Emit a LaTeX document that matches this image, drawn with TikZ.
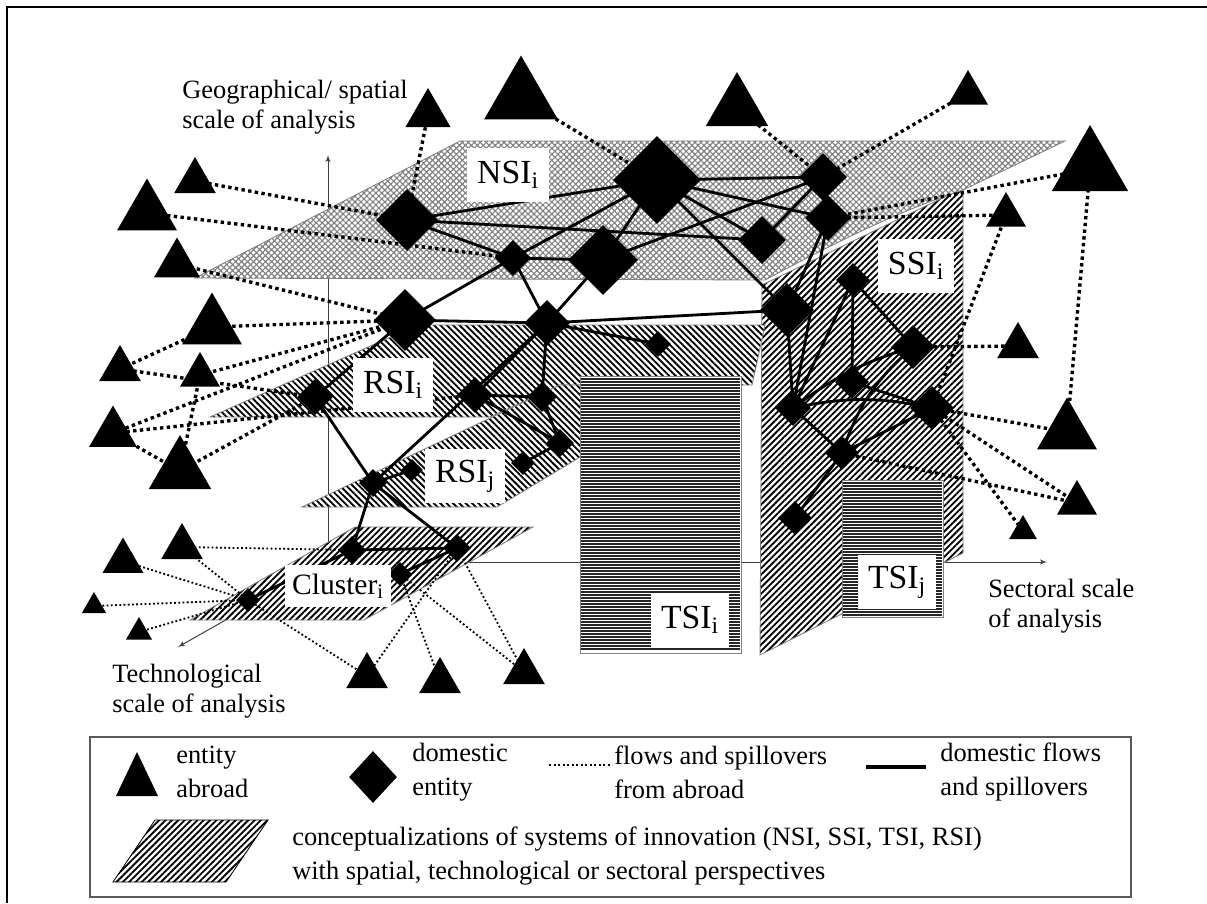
\documentclass[tikz,border=0pt]{standalone}
\usepackage{fontspec}
\setmainfont{Liberation Serif}
\usetikzlibrary{arrows,shapes.geometric,patterns.meta}

\pgfdeclarelayer{planes}
\pgfdeclarelayer{flows}
\pgfsetlayers{planes,flows,main}

\tikzstyle{axis}=[draw=black!75, line width=0.7pt]
\tikzstyle{plane}=[draw=gray, line width=0.6pt, preaction={fill=white}]
\tikzstyle{nsi}=[plane, pattern={Hatch[angle=45,distance=3pt,line width=0.8pt]}, pattern color=gray]
\tikzstyle{rsi}=[plane, pattern={Lines[angle=-45,distance=3.2pt,line width=1.3pt]}, pattern color=black]
\tikzstyle{ssi}=[plane, pattern={Lines[angle=45,distance=3.2pt,line width=1.3pt]}, pattern color=black]
\tikzstyle{tsi}=[draw=gray, line width=0.6pt, fill=white]
\tikzstyle{tsiline}=[line width=1pt, black!85]
\tikzstyle{systag}=[fill=white, inner xsep=7pt, minimum height=38pt, font=\fontsize{24}{26}\selectfont]
\tikzstyle{domflow}=[line width=2pt]
\tikzstyle{flow}=[line width=2.4pt, dash pattern=on 2.4pt off 2.4pt]
\tikzstyle{thinflow}=[line width=1.3pt, dash pattern=on 1.3pt off 1.7pt]
\tikzstyle{scalelabel}=[align=left, anchor=north west, inner sep=0pt, font=\fontsize{18.8}{21}\selectfont]
\tikzstyle{key}=[align=left, anchor=west, inner sep=0pt, font=\fontsize{18.8}{24}\selectfont]
\tikzset{
  dom/.style={diamond, fill=black, inner sep=0pt, minimum width=#1*0.025cm, minimum height=#1*0.025cm},
  abroad/.style={regular polygon, regular polygon sides=3, fill=black, inner sep=0pt, minimum size=#1*0.025cm}
}

\begin{document}
\begin{tikzpicture}[x=0.025cm, y=-0.025cm, >=latex']
\useasboundingbox (0,0) rectangle (1207,903);
\draw[line width=2pt] (1207,7) -- (7,7) -- (7,903);

% axes
\coordinate (O) at (328,562);
\coordinate (geoend) at (328,155);
\coordinate (secend) at (1047,562);
\coordinate (techend) at (178,647);

\begin{pgfonlayer}{planes}
\draw[axis,->] (O) -- (geoend);
\draw[axis,->] (O) -- (secend);
\draw[axis,->] (O) -- (techend);
% SSI (vertical)
\path[ssi] (762,285) -- (963,188) -- (963,553) -- (760,655) -- cycle;
% NSI
\path[nsi] (195,278) -- (460,141) -- (1065,141) -- (963,190)
  .. controls (895,212) and (825,248) .. (765,280) -- cycle;
% RSI i and j
\path[rsi] (210,417) -- (418,325) -- (765,325) -- (752,385) -- (560,385) -- (490,417) -- cycle;
\path[rsi] (302,507) -- (560,385) -- (700,385) -- (497,507) -- cycle;
% cluster
\path[ssi] (190,620) -- (355,527) -- (533,527) -- (364,620) -- cycle;
% TSI
\path[tsi] (580,376) rectangle (741,653);
\foreach \y in {379,382,...,651}
  \draw[tsiline] (581,\y) -- (740,\y);
\path[tsi] (842,480) rectangle (943,617);
\foreach \y in {483,486,...,615}
  \draw[tsiline] (843,\y) -- (942,\y);
\end{pgfonlayer}

\node[scalelabel] (geolabel) at (182,80) {Geographical/ spatial\\scale of analysis};
\node[scalelabel] (seclabel) at (988,579) {Sectoral scale\\of analysis};
\node[scalelabel] (techlabel) at (112,664) {Technological\\scale of analysis};

% domestic entities
\node[dom=62] (d1) at (407,220) {};
\node[dom=88] (d2) at (657,180) {};
\node[dom=36] (d3) at (513,258) {};
\node[dom=70] (d4) at (603,260) {};
\node[dom=48] (d5) at (762,240) {};
\node[dom=48] (d6) at (823,177) {};
\node[dom=46] (d7) at (828,218) {};
\node[dom=54] (d8) at (787,310) {};
\node[dom=62] (d9) at (405,320) {};
\node[dom=46] (d10) at (547,323) {};
\node[dom=26] (d11) at (658,344) {};
\node[dom=36] (d12) at (315,397) {};
\node[dom=36] (d13) at (475,395) {};
\node[dom=30] (d14) at (542,397) {};
\node[dom=28] (d15) at (560,443) {};
\node[dom=24] (d16) at (523,463) {};
\node[dom=28] (d17) at (373,483) {};
\node[dom=22] (d18) at (412,470) {};
\node[dom=28] (d19) at (352,550) {};
\node[dom=28] (d20) at (457,548) {};
\node[dom=24] (d21) at (400,574) {};
\node[dom=24] (d22) at (248,600) {};
\node[dom=34] (d23) at (853,280) {};
\node[dom=44] (d24) at (913,347) {};
\node[dom=34] (d25) at (852,382) {};
\node[dom=44] (d26) at (932,408) {};
\node[dom=36] (d27) at (793,408) {};
\node[dom=34] (d28) at (842,453) {};
\node[dom=34] (d29) at (795,518) {};

% entities abroad
\node[abroad=52] (t1) at (428,114) {};
\node[abroad=85] (t2) at (521,98) {};
\node[abroad=72] (t3) at (737,108) {};
\node[abroad=46] (t4) at (968,93) {};
\node[abroad=88] (t5) at (1090,169) {};
\node[abroad=46] (t6) at (1006,215) {};
\node[abroad=48] (t7) at (1018,346) {};
\node[abroad=69] (t8) at (1067,432) {};
\node[abroad=46] (t9) at (1077,503) {};
\node[abroad=32] (t10) at (1023,531) {};
\node[abroad=48] (t11) at (195,181) {};
\node[abroad=69] (t12) at (147,213) {};
\node[abroad=53] (t13) at (177,264) {};
\node[abroad=69] (t14) at (212,327) {};
\node[abroad=48] (t15) at (120,369) {};
\node[abroad=46] (t16) at (200,375) {};
\node[abroad=55] (t17) at (113,433) {};
\node[abroad=72] (t18) at (180,471) {};
\node[abroad=48] (t19) at (182,547) {};
\node[abroad=47] (t20) at (123,561) {};
\node[abroad=28] (t21) at (94,606) {};
\node[abroad=30] (t22) at (139,632) {};
\node[abroad=48] (t23) at (367,676) {};
\node[abroad=48] (t24) at (440,681) {};
\node[abroad=48] (t25) at (524,672) {};

\begin{pgfonlayer}{flows}
\foreach \a/\b in {d1/d2,d1/d3,d1/d5,d2/d3,d2/d4,d2/d5,d2/d6,d2/d7,d2/d8,d3/d4,d4/d6,d5/d6,
  d6/d7,d7/d8,d9/d3,d9/d10,d9/d12,d10/d3,d10/d4,d10/d8,d10/d11,d10/d13,d10/d14,d10/d17,
  d13/d14,d13/d15,d14/d15,d15/d16,d12/d17,d17/d18,d17/d19,d17/d20,d19/d20,d20/d21,d19/d22,
  d8/d27,d7/d27,d23/d24,d23/d25,d23/d27,d25/d26,d27/d28,d28/d29,d28/d26}
  \draw[domflow] (\a.center) -- (\b.center);
\draw[domflow] (d24.center) to[bend right=15] (d28.center);
\draw[domflow] (d24.center) to[bend right=10] (d27.center);
\draw[domflow] (d27.center) to[bend left=12] (d26.center);

\foreach \a/\b in {t1/d1,t11/d1,t12/d3,t13/d9,t14/d9,t15/t14,t15/d12,t16/d9,t16/t18,t17/d9,
  t17/d13,t17/t18,t18/d12,t2/d2,t3/d6,t4/d6,t5/d7,t6/d7,t6/d26,t5/t8,t7/d24,t8/d26,t9/d26,
  t9/d28,t10/d26}
  \draw[flow] (\a.center) -- (\b.center);

\foreach \a/\b in {t19/d19,t19/d22,t20/d22,t21/d22,t22/d22,t23/d22,t23/d20,t24/d21,t25/d20,t25/d21}
  \draw[thinflow] (\a.center) -- (\b.center);
\end{pgfonlayer}

% system labels
\node[systag] (nsitag) at (508,175) {NSI\textsubscript{i}};
\node[systag] (ssitag) at (916,266) {SSI\textsubscript{i}};
\node[systag] (rsiitag) at (393,385) {RSI\textsubscript{i}};
\node[systag] (rsijtag) at (465,476) {RSI\textsubscript{j}};
\node[systag, minimum height=30pt, inner xsep=5pt, font=\fontsize{21}{23}\selectfont] (clustertag) at (338,586) {Cluster\textsubscript{i}};
\node[systag] (tsiitag) at (690,620) {TSI\textsubscript{i}};
\node[systag] (tsijtag) at (897,582) {TSI\textsubscript{j}};

% legend
\draw[draw=gray!70!black, line width=0.8pt] (90,737) rectangle (1131,897);
\fill (116,796) -- (137,752) -- (158,796) -- cycle;
\node[fill=black, diamond, inner sep=0pt, minimum width=48*0.025cm, minimum height=52*0.025cm] (keydom) at (373,777) {};
\draw[flow, line width=2pt, dash pattern=on 1.6pt off 1.6pt] (549,765) -- (612,765);
\draw[line width=3pt] (866,767) -- (926,767);
\path[ssi, draw=black] (113,882) -- (155,820) -- (268,820) -- (226,882) -- cycle;
\node[key] (keyabroad) at (176,772) {entity\\abroad};
\node[key] (keydomestic) at (412,772) {domestic\\entity};
\node[key] (keyflow) at (614,772) {flows and spillovers\\from abroad};
\node[key] (keydomflow) at (940,772) {domestic flows\\and spillovers};
\node[key] (keysystem) at (292,856) {conceptualizations of systems of innovation (NSI, SSI, TSI, RSI)\\with spatial, technological or sectoral perspectives};
\end{tikzpicture}
\end{document}
